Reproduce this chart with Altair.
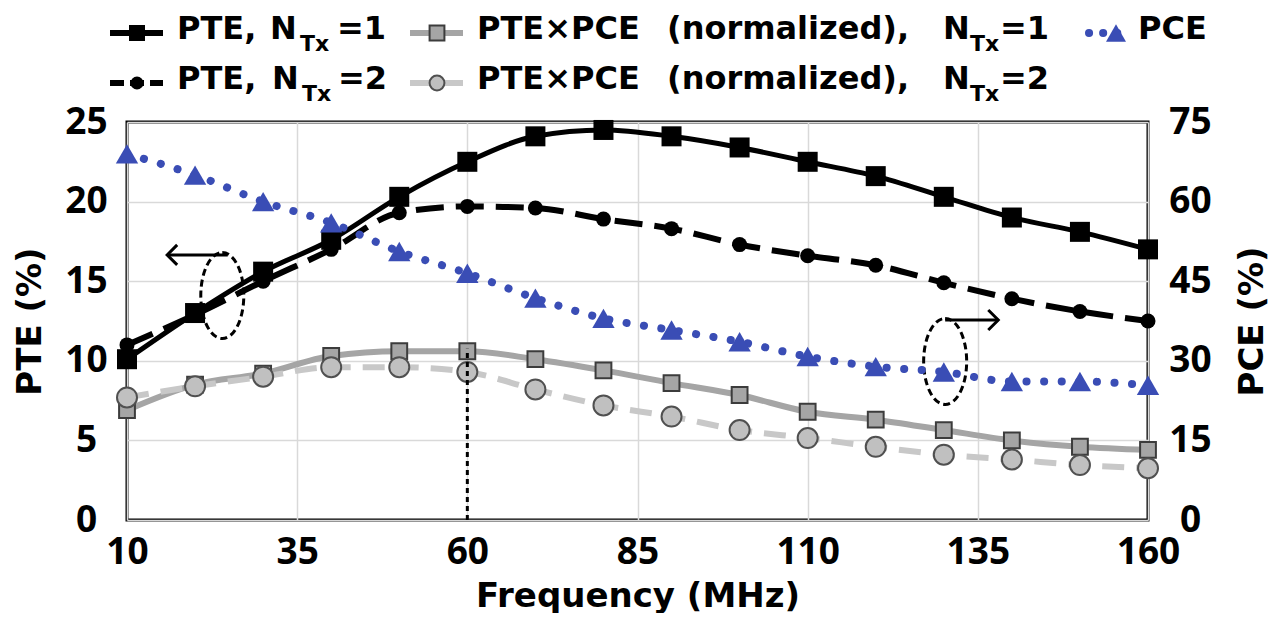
import altair as alt
import pandas as pd

# ---------------- data ----------------
freq = [10, 20, 30, 40, 50, 60, 70, 80, 90, 100, 110, 120, 130, 140, 150, 160]
pte_n1 = [10.1, 13.0, 15.6, 17.6, 20.3, 22.5, 24.1, 24.5, 24.1, 23.4, 22.5, 21.6, 20.3, 19.0, 18.1, 17.0]
pte_n2 = [11.0, 12.9, 15.0, 17.0, 19.3, 19.7, 19.6, 18.9, 18.3, 17.3, 16.6, 16.0, 14.9, 13.9, 13.1, 12.5]
pce = [69.0, 65.0, 60.0, 56.0, 50.6, 46.5, 41.8, 38.0, 35.8, 33.6, 30.8, 28.9, 27.9, 26.1, 26.1, 25.4]
prod_n1 = [6.9, 8.5, 9.2, 10.3, 10.6, 10.6, 10.1, 9.4, 8.6, 7.85, 6.8, 6.3, 5.65, 5.0, 4.6, 4.4]
prod_n2 = [7.7, 8.4, 9.0, 9.6, 9.6, 9.3, 8.2, 7.2, 6.5, 5.65, 5.15, 4.6, 4.1, 3.8, 3.45, 3.25]

x_ticks = [10, 35, 60, 85, 110, 135, 160]
left_ticks = [0, 5, 10, 15, 20, 25]
right_ticks = [0, 15, 30, 45, 60, 75]

# annotation anchors (data units of the left axis)
marker_freq = [60]
marker_top = [10.75]
ellipse_x = [24.0, 130.2]
ellipse_y = [14.1, 9.96]
arrow_x0 = [15.9, 130.2]
arrow_x1 = [24.8, 138.0]
arrow_y = [16.65, 12.56]

# legend entries
legend_main = ["PTE,", "N", "=1", "PTE,", "N", "=2",
               "PTE×PCE", "(normalized),", "N", "=1",
               "PTE×PCE", "(normalized),", "N", "=2", "PCE"]
legend_sub = ["Tx", "Tx", "Tx", "Tx"]

# ---------------- layout / style ----------------
W, H = 1021, 398
FONT = "DejaVu Sans"
TICKFONT = "Open Sans"
BLUE = "#3a4db5"
GRAY = "#a5a5a5"
LGRAY = "#c8c8c8"
GRID = "#d9d9d9"

x_scale = alt.Scale(domain=[10, 160], nice=False, zero=False)
yl_scale = alt.Scale(domain=[0, 25], nice=False, zero=False)
yr_scale = alt.Scale(domain=[0, 75], nice=False, zero=False)

x_axis = alt.Axis(values=x_ticks, title="Frequency (MHz)", grid=True, gridColor=GRID,
                  gridWidth=1.5, domain=False, ticks=False, tickSize=0, labelPadding=14,
                  labelFlush=False, labelOverlap=False,
                  labelFont=TICKFONT, labelFontSize=37, labelFontWeight="bold", labelColor="black",
                  titleFont=FONT, titleFontSize=34, titleFontWeight="bold", titleColor="black",
                  titleBaseline="alphabetic", titleY=86, titleX=W / 2, titleAlign="center")
yl_axis = alt.Axis(values=left_ticks, title="PTE (%)", orient="left", grid=True, gridColor=GRID,
                   gridWidth=1.5, domain=False, ticks=False, tickSize=0, labelPadding=41,
                   labelAlign="center", labelOverlap=False,
                   labelFont=TICKFONT, labelFontSize=37, labelFontWeight="bold", labelColor="black",
                   titleFont=FONT, titleFontSize=34, titleFontWeight="bold", titleColor="black",
                   titleAngle=270, titleBaseline="alphabetic", titleX=-87, titleY=H / 2,
                   titleAlign="center")
yr_axis = alt.Axis(values=right_ticks, title="PCE (%)", orient="right", grid=False,
                   domain=False, ticks=False, tickSize=0, labelPadding=42, labelAlign="center",
                   labelOverlap=False,
                   labelFont=TICKFONT, labelFontSize=37, labelFontWeight="bold", labelColor="black",
                   titleFont=FONT, titleFontSize=34, titleFontWeight="bold", titleColor="black",
                   titleAngle=270, titleBaseline="alphabetic", titleX=114, titleY=H / 2,
                   titleAlign="center")


def xl():
    return alt.X("freq:Q", scale=x_scale, axis=x_axis)


def yl(field="val"):
    return alt.Y(f"{field}:Q", scale=yl_scale, axis=yl_axis)


def series_df(vals):
    return pd.DataFrame({"freq": freq, "val": vals})


def series(vals, color, width, dash, shape, size, fill, stroke, sw, y_enc):
    df = series_df(vals)
    line_kw = dict(color=color, strokeWidth=width, interpolate="monotone")
    if dash is not None:
        line_kw["strokeDash"] = dash
    line = alt.Chart(df).mark_line(**line_kw).encode(x=xl(), y=y_enc)
    pt_kw = dict(shape=shape, size=size, filled=True, fill=fill, opacity=1)
    if stroke is not None:
        pt_kw.update(stroke=stroke, strokeWidth=sw)
    pts = alt.Chart(df).mark_point(**pt_kw).encode(x=xl(), y=y_enc)
    return line, pts


l1, p1 = series(pte_n1, "black", 5, None, "square", 400, "black", None, 0, yl())
l2, p2 = series(pte_n2, "black", 6, [28, 12], "circle", 225, "black", None, 0, yl())
l3, p3 = series(prod_n1, GRAY, 6, None, "square", 250, GRAY, "#3c3c3c", 2, yl())
l4, p4 = series(prod_n2, LGRAY, 6, [22, 12], "circle", 400, "#c0c0c0", "#505050", 2, yl())

# vertical dotted marker at 60 MHz
vdf = pd.DataFrame({"freq": marker_freq, "val": [0], "val2": marker_top})
vrule = alt.Chart(vdf).mark_rule(color="black", strokeWidth=3, strokeDash=[5, 4]).encode(
    x=xl(), y=yl(), y2="val2:Q")

# dashed ellipses
ELLIPSE = "M 0 -1 A 0.5 1 0 1 1 0 1 A 0.5 1 0 1 1 0 -1 Z"
edf = pd.DataFrame({"freq": ellipse_x, "val": ellipse_y})
ellipses = alt.Chart(edf).mark_point(shape=ELLIPSE, size=7400, filled=False, color="black",
                                      strokeWidth=3, strokeDash=[7, 4], opacity=1).encode(
    x=xl(), y=yl())

# arrows
adf = pd.DataFrame({"freq": arrow_x0, "freq2": arrow_x1, "val": arrow_y})
arrows = alt.Chart(adf).mark_rule(color="black", strokeWidth=3).encode(
    x=xl(), x2="freq2:Q", y=yl())
hl = pd.DataFrame({"freq": [arrow_x0[0]], "val": [arrow_y[0]]})
hr = pd.DataFrame({"freq": [arrow_x1[1]], "val": [arrow_y[1]]})
head_l = alt.Chart(hl).mark_point(shape="M 2 -2 L 0 0 L 2 2", size=100, filled=False,
                                  color="black", strokeWidth=3, opacity=1).encode(x=xl(), y=yl())
head_r = alt.Chart(hr).mark_point(shape="M -2 -2 L 0 0 L -2 2", size=100, filled=False,
                                  color="black", strokeWidth=3, opacity=1).encode(x=xl(), y=yl())

left_group = alt.layer(l1, p1, l2, p2, l3, p3, l4, p4, vrule, ellipses, arrows, head_l, head_r)

# PCE on the right axis
pce_df = series_df(pce)
yr = alt.Y("val:Q", scale=yr_scale, axis=yr_axis)
xr = alt.X("freq:Q", scale=x_scale, axis=None)
pce_line = alt.Chart(pce_df).mark_line(color=BLUE, strokeWidth=8, strokeDash=[0.1, 17.5],
                                       strokeCap="round", interpolate="monotone").encode(x=xr, y=yr)
pce_pts = alt.Chart(pce_df).mark_point(shape="triangle-up", size=500, filled=True, color=BLUE,
                                       opacity=1).encode(x=xr, y=yr)
right_group = alt.layer(pce_line, pce_pts)

# ---------------- legend (pixel positions relative to plot origin) ----------------
lx = alt.Scale(domain=[0, W], nice=False, zero=False)
ly = alt.Scale(domain=[0, H], nice=False, zero=False, reverse=True)


def LX(f="px"):
    return alt.X(f"{f}:Q", scale=lx, axis=None)


def LY(f="py"):
    return alt.Y(f"{f}:Q", scale=ly, axis=None)


main_df = pd.DataFrame({
    "txt": legend_main,
    "px": [50, 143, 210, 50, 145, 211, 350, 540, 816, 873, 350, 540, 816, 873, 1011],
    "py": [-83, -83, -83, -33, -33, -33, -83, -83, -83, -83, -33, -33, -33, -33, -83],
})
sub_df = pd.DataFrame({"txt": legend_sub, "px": [173, 175, 843, 843], "py": [-71, -21, -71, -21]})
t_main = alt.Chart(main_df).mark_text(align="left", baseline="alphabetic", font=FONT,
                                      fontWeight="bold", fontSize=32, color="black").encode(
    x=LX(), y=LY(), text="txt:N")
t_sub = alt.Chart(sub_df).mark_text(align="left", baseline="alphabetic", font=FONT,
                                    fontWeight="bold", fontSize=22, color="black").encode(
    x=LX(), y=LY(), text="txt:N")


def leg_line(x0, x1, y, **kw):
    d = pd.DataFrame({"px": [x0], "px2": [x1], "py": [y]})
    return alt.Chart(d).mark_rule(**kw).encode(x=LX(), x2="px2:Q", y=LY())


def leg_pt(x, y, **kw):
    d = pd.DataFrame({"px": [x], "py": [y]})
    return alt.Chart(d).mark_point(opacity=1, **kw).encode(x=LX(), y=LY())


leg = [
    leg_line(-17, 36, -89, color="black", strokeWidth=6),
    leg_pt(10, -89, shape="square", size=256, filled=True, color="black"),
    leg_line(-17, 36, -39, color="black", strokeWidth=6, strokeDash=[14, 6]),
    leg_pt(10, -39, shape="circle", size=170, filled=True, color="black"),
    leg_line(283, 336, -89, color=GRAY, strokeWidth=6),
    leg_pt(310, -89, shape="square", size=220, filled=True, fill=GRAY, stroke="#3c3c3c", strokeWidth=2),
    leg_line(283, 336, -39, color=LGRAY, strokeWidth=6),
    leg_pt(310, -39, shape="circle", size=220, filled=True, fill="#c0c0c0", stroke="#505050", strokeWidth=2),
    leg_line(962, 1004, -89, color=BLUE, strokeWidth=8, strokeDash=[0.1, 14], strokeCap="round"),
    leg_pt(989, -89, shape="triangle-up", size=400, filled=True, color=BLUE),
    t_main, t_sub,
]
legend_group = alt.layer(*leg)

chart = alt.layer(left_group, right_group, legend_group).resolve_scale(
    x="independent", y="independent"
).properties(
    width=W, height=H,
    autosize=alt.AutoSizeParams(type="none"),
    padding={"left": 119, "top": 114, "right": 123, "bottom": 93},
).configure_view(stroke="black", strokeWidth=3)

chart.save("out.html", embed_options={"renderer": "svg", "actions": False})
